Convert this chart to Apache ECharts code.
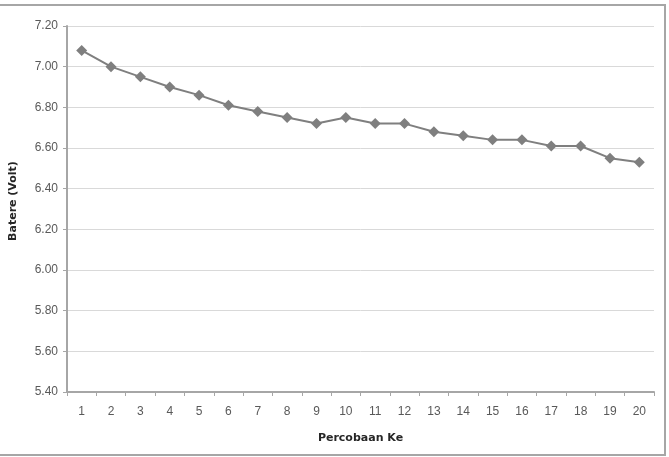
<!DOCTYPE html>
<html>
<head>
<meta charset="utf-8">
<script src="https://cdn.jsdelivr.net/npm/echarts@6/dist/echarts.min.js"></script>
<style>
html,body{margin:0;padding:0;background:#fff;}
#c{width:669px;height:457px;}
</style>
</head>
<body>
<div id="c"></div>
<script>
const categories = ['1','2','3','4','5','6','7','8','9','10','11','12','13','14','15','16','17','18','19','20'];
const voltage = [7.08, 7.00, 6.95, 6.90, 6.86, 6.81, 6.78, 6.75, 6.72, 6.75, 6.72, 6.72, 6.68, 6.66, 6.64, 6.64, 6.61, 6.61, 6.55, 6.53];
const xTitle = 'Percobaan Ke';
const yTitle = 'Batere (Volt)';

const chart = echarts.init(document.getElementById('c'), null, {renderer: 'canvas'});
const labelFont = {color: '#595959', fontSize: 12, fontFamily: '"Liberation Sans", Arial, sans-serif'};
const titleFont = {color: '#262626', fontSize: 11, fontWeight: 'bold', fontFamily: '"DejaVu Sans", sans-serif'};
chart.setOption({
  animation: false,
  backgroundColor: '#ffffff',
  graphic: [{
    type: 'rect',
    shape: {x: -2, y: 5, width: 667, height: 450},
    style: {fill: 'none', stroke: '#a6a6a6', lineWidth: 2},
    silent: true
  }],
  grid: {left: 67, right: 15, top: 26, bottom: 65, containLabel: false},
  xAxis: {
    type: 'category',
    data: categories,
    boundaryGap: true,
    name: xTitle,
    nameLocation: 'middle',
    nameGap: 41,
    nameTextStyle: titleFont,
    axisLine: {lineStyle: {color: '#a6a6a6', width: 2}},
    axisTick: {show: true, alignWithLabel: false, length: 4, lineStyle: {color: '#a6a6a6', width: 1}},
    axisLabel: Object.assign({margin: 14}, labelFont),
    splitLine: {show: false}
  },
  yAxis: {
    type: 'value',
    min: 5.4,
    max: 7.2,
    interval: 0.2,
    name: yTitle,
    nameLocation: 'middle',
    nameGap: 48,
    nameRotate: 90,
    nameTextStyle: Object.assign({padding: [0, 0, 0, 16]}, titleFont),
    axisLine: {show: true, lineStyle: {color: '#a6a6a6', width: 2}},
    axisTick: {show: true, length: 4, lineStyle: {color: '#a6a6a6', width: 1}},
    axisLabel: Object.assign({margin: 9, formatter: v => v.toFixed(2)}, labelFont),
    splitLine: {show: true, lineStyle: {color: '#d9d9d9', width: 1}}
  },
  series: [{
    type: 'line',
    data: voltage,
    symbol: 'diamond',
    symbolSize: 11,
    showSymbol: true,
    lineStyle: {color: '#7f7f7f', width: 2},
    itemStyle: {color: '#7f7f7f'}
  }]
});
</script>
</body>
</html>
